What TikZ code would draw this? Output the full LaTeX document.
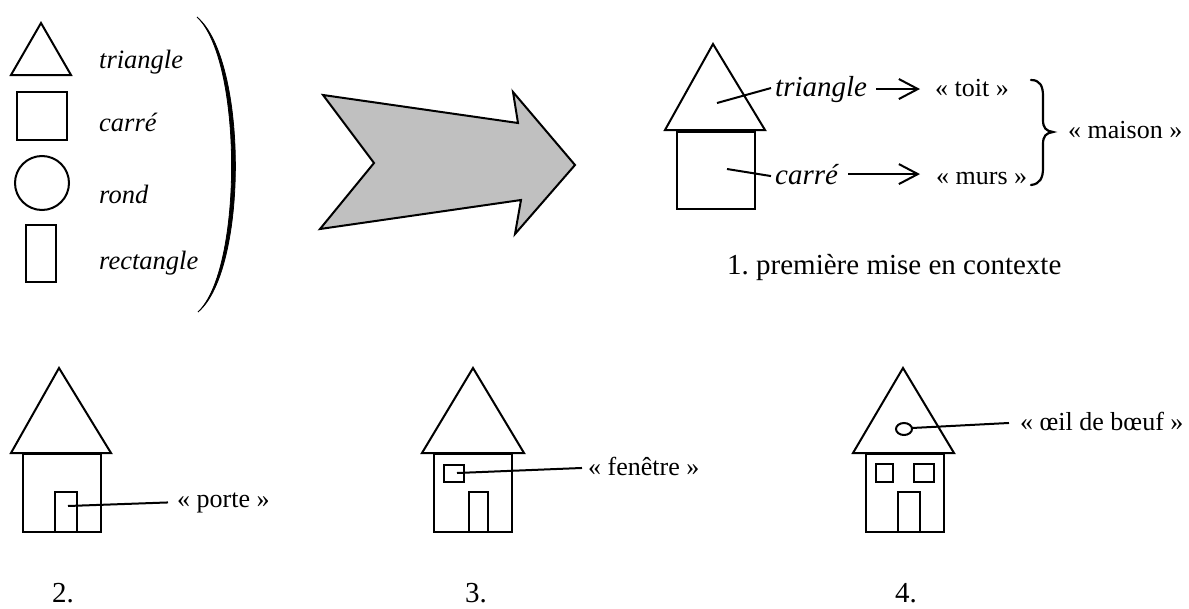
\documentclass[tikz,border=0pt]{standalone}
\usepackage{fontspec}
\setmainfont{Liberation Serif}
\usetikzlibrary{arrows.meta}
\begin{document}
\frenchspacing
\begin{tikzpicture}[x=1pt,y=-1pt,
  shp/.style={draw,line width=2pt,line join=miter,miter limit=4},
  lbl/.style={inner sep=0pt,anchor=base west,font=\fontsize{26}{30}\selectfont},
  ilbl/.style={inner sep=0pt,anchor=base west,font=\fontsize{26.5}{30}\selectfont\itshape},
  bilbl/.style={inner sep=0pt,anchor=base west,font=\fontsize{29}{33}\selectfont\itshape},
  captxt/.style={inner sep=0pt,anchor=base west,font=\fontsize{29}{34}\selectfont},
  numtxt/.style={inner sep=0pt,anchor=base,font=\fontsize{29}{34}\selectfont},
  link/.style={line width=2pt},
  arr/.style={line width=2pt,-{Straight Barb[length=19pt,width=20pt,line width=2pt]}}
]
\definecolor{arrowgray}{RGB}{192,192,192}
\fill[white] (0,0) rectangle (1189,608);
\useasboundingbox (0,0) rectangle (1189,608);

% ---- left column: basic shapes ----
\draw[shp] (41,23) -- (11,75) -- (71,75) -- cycle;
\draw[shp] (17,92) rectangle (67,140);
\draw[shp] (42,183) circle [radius=27];
\draw[shp] (26,225) rectangle (56,282);
\node[ilbl] (l1) at (99,68) {triangle};
\node[ilbl] (l2) at (99,131) {carré};
\node[ilbl] (l3) at (99,203) {rond};
\node[ilbl] (l4) at (99,269) {rectangle};
% parenthesis
\filldraw[line width=0.8pt] (197,17) .. controls (248,60) and (248,270) .. (198,312)
  .. controls (243,270) and (243,60) .. (197,17) -- cycle;

% ---- big gray arrow ----
\filldraw[shp,fill=arrowgray] (323,95) -- (518,123) -- (513,92) -- (575,165)
  -- (515,234) -- (521,200) -- (320,229) -- (374,163) -- cycle;

% ---- top right house ----
\draw[shp] (713,44) -- (665,130) -- (765,130) -- cycle;
\draw[shp] (677,132) rectangle (755,209);
\node[bilbl] (t1) at (775,96) {triangle};
\node[lbl] (toit) at (935,96) {« toit »};
\node[bilbl] (t2) at (775,184) {carré};
\node[lbl] (murs) at (936,184) {« murs »};
\node[lbl] (maison) at (1068,138) {« maison »};
\node[captxt] (cap1) at (727,274) {1. première mise en contexte};
\coordinate (p1) at (717,103);
\coordinate (p2) at (727,169);
\draw[link] (p1) -- ([xshift=-4pt,yshift=1pt]t1.west);
\draw[link] (p2) -- ([xshift=-4pt,yshift=-2pt]t2.west);
\path (toit.west |- t1.east) coordinate (a1);
\path (murs.west |- t2.east) coordinate (a2);
\draw[arr] ([xshift=9pt]t1.east) -- ([xshift=-15pt]a1);
\draw[arr] ([xshift=10pt]t2.east) -- ([xshift=-16pt]a2);
% brace
\draw[line width=2.2pt,line cap=round]
  (1031,80) .. controls (1040,80) and (1043,86) .. (1043,96) -- (1043,120)
  .. controls (1043,128) and (1046,131) .. (1053,132)
  .. controls (1046,133) and (1043,136) .. (1043,144) -- (1043,168)
  .. controls (1043,178) and (1040,184) .. (1031,185);

% ---- house 2 ----
\draw[shp] (59,368) -- (11,453) -- (111,453) -- cycle;
\draw[shp] (23,454) rectangle (101,532);
\draw[shp] (55,492) rectangle (77,532);
\node[lbl] (porte) at (177,507) {« porte »};
\coordinate (d2) at (68,506);
\draw[link] (d2) -- ([xshift=-9pt]porte.west);
\node[numtxt] (n2) at (63,602) {2.};

% ---- house 3 ----
\draw[shp] (473,368) -- (422,453) -- (524,453) -- cycle;
\draw[shp] (434,454) rectangle (512,532);
\draw[shp] (444,465) rectangle (464,482);
\draw[shp] (469,492) rectangle (488,532);
\node[lbl] (fen) at (588,475) {« fenêtre »};
\coordinate (w3) at (457,473);
\draw[link] (w3) -- ([xshift=-6pt,yshift=-2pt]fen.west);
\node[numtxt] (n3) at (476,602) {3.};

% ---- house 4 ----
\draw[shp] (903,368) -- (853,453) -- (954,453) -- cycle;
\draw[shp] (866,454) rectangle (944,532);
\draw[shp] (876,464) rectangle (893,482);
\draw[shp] (914,464) rectangle (934,482);
\draw[shp] (898,492) rectangle (920,532);
\draw[shp] (904,429) ellipse [x radius=8, y radius=6];
\node[lbl] (oeil) at (1020,430) {« œil de bœuf »};
\coordinate (o4) at (912,428);
\draw[link] (o4) -- ([xshift=-11pt,yshift=-2pt]oeil.west);
\node[numtxt] (n4) at (906,602) {4.};
\end{tikzpicture}
\end{document}
